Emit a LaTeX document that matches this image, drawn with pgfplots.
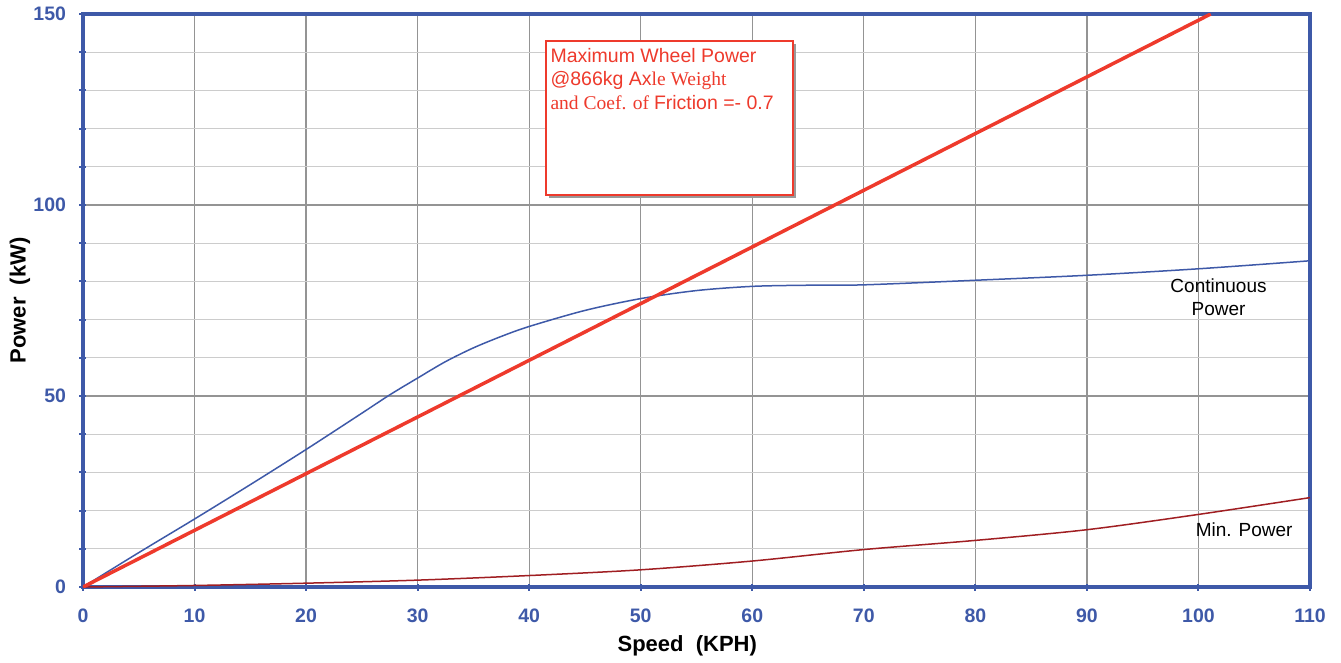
\documentclass[border=0pt]{standalone}
\usepackage{pgfplots}
\pgfplotsset{compat=1.18}
\usepackage{fontspec}
\setmainfont{Liberation Sans}
\newfontfamily\serif{Liberation Serif}
\definecolor{frameblue}{HTML}{3E59A8}
\definecolor{maxred}{HTML}{EE3A2C}
\definecolor{minred}{HTML}{A01E22}
\definecolor{contblue}{HTML}{3E59A8}
\begin{document}
\begin{tikzpicture}
\path[use as bounding box] (-83pt,-75pt) rectangle (1258pt,587pt);
\begin{axis}[
  at={(0,0)}, anchor=south west,
  scale only axis, width=1227pt, height=573pt,
  xmin=0, xmax=110, ymin=0, ymax=150,
  xtick={0,10,...,110},
  ytick={0,50,100,150},
  minor ytick={10,20,30,40,60,70,80,90,110,120,130,140},
  grid=both,
  major grid style={color=black!42, line width=1.3pt},
  minor grid style={color=black!20, line width=1.3pt},
  axis line style={color=frameblue, line width=4pt},
  tick pos=left,
  tick align=center,
  major tick length=7pt, minor tick length=7pt,
  every tick/.style={color=frameblue, line width=2pt},
  /pgf/number format/assume math mode=true,
  every tick label/.append style={font=\fontsize{19.5}{24}\selectfont\bfseries, text=frameblue},
  xticklabel style={yshift=-15pt},
  yticklabel style={xshift=-10pt},
  xlabel={Speed\ \ (KPH)},
  ylabel={Power\ \ (kW)},
  label style={font=\fontsize{22}{26}\selectfont\bfseries, text=black},
  xlabel style={at={(axis description cs:0.4925,-0.1035)}, anchor=center},
  ylabel style={at={(axis description cs:-0.0513,0.5)}, anchor=center},
]
\addplot[color=contblue, line width=1.5pt, smooth] coordinates {
 (0,0) (5,9) (10,17.8) (15,26.8) (20,36) (25,45.5) (27.5,50.3) (30,54.7) (32.5,59) (35,62.6) (37.5,65.6) (40,68.2) (45,72.4) (50,75.5) (55,77.6) (60,78.7) (65,79) (70,79.1) (80,80.3) (90,81.6) (100,83.3) (110,85.4)
};
\addplot[color=minred, line width=1.5pt, smooth] coordinates {
 (0,0) (10,0.4) (20,1.0) (30,1.8) (40,3.0) (50,4.5) (60,6.8) (70,9.8) (80,12.2) (90,15.0) (100,19.0) (110,23.4)
};
\addplot[color=maxred, line width=3.5pt] coordinates {(0,0) (101.1,150)};
\fill[black!40] ([xshift=3pt,yshift=-3pt]axis cs:41.48,143.0) rectangle ([xshift=3pt,yshift=-3pt]axis cs:63.68,102.6);
\draw[maxred, line width=2pt, fill=white] (axis cs:41.48,143.0) rectangle (axis cs:63.68,102.6);
\node[anchor=base west, inner sep=0pt, text=maxred, font=\fontsize{19.5}{23}\selectfont] at (axis cs:41.9,137.4) {Maximum Wheel Power};
\node[anchor=base west, inner sep=0pt, text=maxred, font=\fontsize{19.5}{23}\selectfont] at (axis cs:41.9,131.2) {@866kg Ax{\serif le Weight}};
\node[anchor=base west, inner sep=0pt, text=maxred, font=\fontsize{19.5}{23}\selectfont] at (axis cs:41.9,124.9) {{\serif and Coef. of }Friction =- 0.7};
\node[align=center, font=\fontsize{19}{23}\selectfont, text=black] at (axis cs:101.8,75.9) {Continuous\\Power};
\node[font=\fontsize{19}{23}\selectfont, text=black] at (axis cs:104.1,14.9) {Min. Power};
\end{axis}
\end{tikzpicture}
\end{document}
